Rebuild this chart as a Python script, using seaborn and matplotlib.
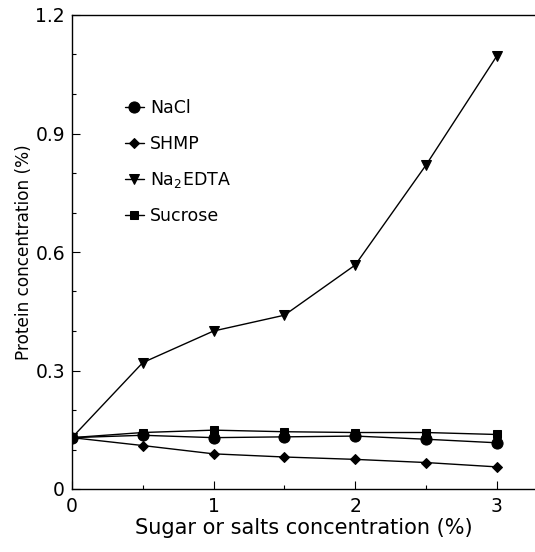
import matplotlib
matplotlib.use("Agg")
import matplotlib.pyplot as plt
import seaborn as sns
import pandas as pd
from matplotlib.ticker import MultipleLocator, FixedLocator

conc = [0, 0.5, 1, 1.5, 2, 2.5, 3]
nacl = [0.13, 0.136, 0.130, 0.132, 0.134, 0.126, 0.117]
shmp = [0.13, 0.110, 0.089, 0.081, 0.075, 0.067, 0.056]
edta = [0.13, 0.320, 0.400, 0.440, 0.567, 0.820, 1.096]
sucrose = [0.13, 0.143, 0.149, 0.145, 0.143, 0.143, 0.138]
series_names = ["NaCl", "SHMP", "Na$_2$EDTA", "Sucrose"]
yticks = [0, 0.3, 0.6, 0.9, 1.2]
ytick_labels = ["0", "0.3", "0.6", "0.9", "1.2"]
xticks = [0, 1, 2, 3]
xtick_labels = ["0", "1", "2", "3"]

sns.set_style("ticks")
plt.rcParams["font.family"] = ["DejaVu Sans"]
plt.rcParams["mathtext.fontset"] = "dejavusans"
plt.rcParams["text.color"] = "black"
plt.rcParams["axes.labelcolor"] = "black"

fig = plt.figure(figsize=(5.35, 5.52), dpi=100)
ax = fig.add_axes([72/535, 1-489/552, 1-72/535, (489-15)/552])

values = [nacl, shmp, edta, sucrose]
markers = ["o", "D", "v", "s"]
msizes = [8, 5, 7.5, 5.5]
for name, vals, mk, ms in zip(series_names, values, markers, msizes):
    df = pd.DataFrame({"x": conc, "y": vals})
    sns.lineplot(data=df, x="x", y="y", ax=ax, color="black", marker=mk,
                 markersize=ms, markeredgecolor="black", linewidth=1.0,
                 label=name)

ax.set_xlim(0, 3.27)
ax.set_ylim(0, 1.2)
ax.xaxis.set_major_locator(FixedLocator(xticks))
ax.set_xticklabels(xtick_labels)
ax.xaxis.set_minor_locator(MultipleLocator(0.5))
ax.yaxis.set_major_locator(FixedLocator(yticks))
ax.set_yticklabels(ytick_labels)
ax.yaxis.set_minor_locator(MultipleLocator(0.1))
ax.tick_params(which="both", direction="in", colors="black", labelsize=13.5, width=0.8)
ax.tick_params(which="major", length=6)
ax.tick_params(axis="y", which="major", pad=5)
ax.tick_params(axis="x", which="major", pad=6)
ax.tick_params(which="minor", length=3)
for s in ["left", "bottom", "top"]:
    ax.spines[s].set_linewidth(1.0)
    ax.spines[s].set_color("black")
ax.spines["right"].set_visible(False)

ax.set_xlabel("Sugar or salts concentration (%)", fontsize=15, labelpad=1)
ax.set_ylabel("Protein concentration (%)", fontsize=12.2, labelpad=2)

leg = ax.legend(loc="upper left", bbox_to_anchor=(0.08, 0.855), frameon=False,
                fontsize=12.5, handlelength=1.1, handletextpad=0.35,
                labelspacing=1.0)
for t in leg.get_texts():
    t.set_color("black")

fig.savefig("out.png", dpi=100)
